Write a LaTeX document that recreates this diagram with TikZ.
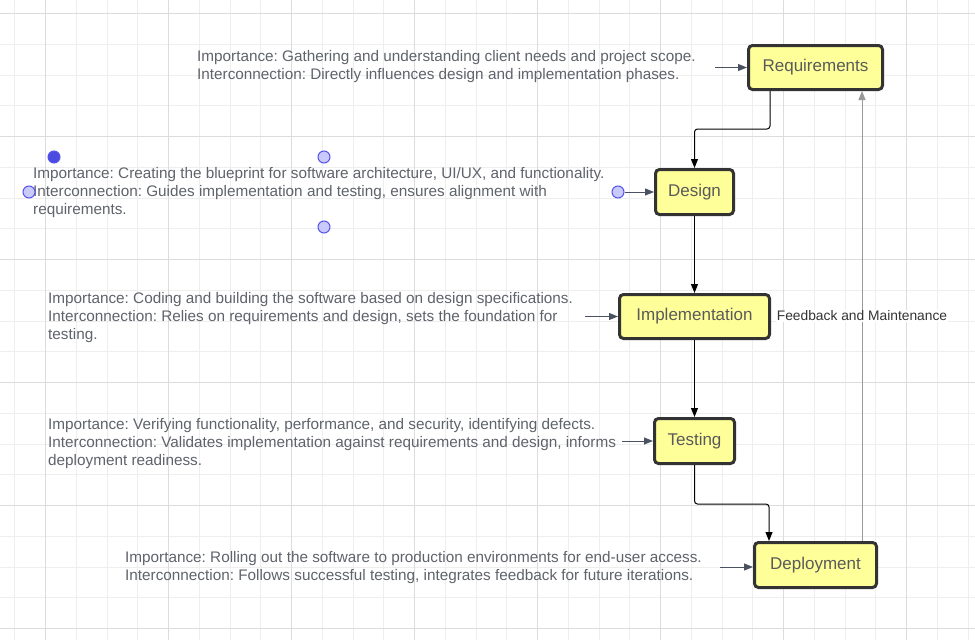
\documentclass[tikz,border=0pt]{standalone}
\usepackage{fontspec}
\setmainfont{Liberation Sans}
\usetikzlibrary{arrows.meta}
\frenchspacing
\definecolor{boxfill}{HTML}{FFFF99}
\definecolor{boxline}{HTML}{333333}
\definecolor{boxtext}{HTML}{5A5A5A}
\definecolor{notegray}{HTML}{5F636A}
\definecolor{inarrowgray}{HTML}{4A5262}
\definecolor{gridminor}{HTML}{EEEEEE}
\definecolor{gridmajor}{HTML}{DCDCDC}
\definecolor{handleline}{HTML}{5555EE}
\definecolor{handlefill}{HTML}{C9C9FB}
\definecolor{handledark}{HTML}{4B4BE0}
\begin{document}
\begin{tikzpicture}
[x=1pt,y=-1pt,
  stepbox/.style={shape=rectangle,draw=boxline,fill=boxfill,line width=3pt,rounded corners=4pt,%
    minimum height=44pt,inner sep=0pt,text=boxtext,font=\fontsize{17}{20}\selectfont},
  notetext/.style={anchor=base west,align=left,inner sep=0pt,text=notegray,font=\fontsize{15.3}{18}\selectfont},
  flowline/.style={-{Triangle[length=9pt,width=7pt]},line width=1pt,rounded corners=3pt},
  feedline/.style={-{Triangle[length=9pt,width=7pt]},line width=1pt,draw=gray!80},
  inarrow/.style={-{Triangle[length=9pt,width=7pt]},line width=1pt,draw=inarrowgray,fill=inarrowgray},
  handle/.style={shape=circle,minimum size=12pt,inner sep=0pt,draw=handleline,fill=handlefill,line width=1pt}]
% background and grid
\useasboundingbox[fill=white] (0,0) rectangle (975,640);
\foreach \i in {0,...,31}
  \draw[gridminor,line width=1pt] ({14.75+\i*30.75},0) -- ({14.75+\i*30.75},640);
\foreach \i in {0,...,20}
  \draw[gridminor,line width=1pt] (0,{13.5+\i*30.75}) -- (975,{13.5+\i*30.75});
\foreach \i in {0,...,7}
  \draw[gridmajor,line width=1pt] ({45.5+\i*123},0) -- ({45.5+\i*123},640);
\foreach \i in {0,...,5}
  \draw[gridmajor,line width=1pt] (0,{13.5+\i*123}) -- (975,{13.5+\i*123});
% phases
\node (req) at (815.5,67.5) [stepbox,minimum width=134pt] {Requirements};
\node (des) at (694.5,192) [stepbox,minimum width=78pt,minimum height=45pt] {Design};
\node (imp) at (694.5,316.5) [stepbox,minimum width=150pt] {Implementation};
\node (tst) at (694.5,441) [stepbox,minimum width=80pt,minimum height=45pt] {Testing};
\node (dep) at (815.5,565) [stepbox,minimum width=122pt,minimum height=45pt] {Deployment};
% notes (anchored at the baseline of their last line)
\node (reqnote) at (197,79.5) [notetext] {Importance: Gathering and understanding client needs and project scope.\\
Interconnection: Directly influences design and implementation phases.};
\node (desnote) at (33,214.5) [notetext] {Importance: Creating the blueprint for software architecture, UI/UX, and functionality.\\
Interconnection: Guides implementation and testing, ensures alignment with\\
requirements.};
\node (impnote) at (48,339.5) [notetext] {Importance: Coding and building the software based on design specifications.\\
Interconnection: Relies on requirements and design, sets the foundation for\\
testing.};
\node (tstnote) at (48,465.5) [notetext] {Importance: Verifying functionality, performance, and security, identifying defects.\\
Interconnection: Validates implementation against requirements and design, informs\\
deployment readiness.};
\node (depnote) at (125,580.5) [notetext] {Importance: Rolling out the software to production environments for end-user access.\\
Interconnection: Follows successful testing, integrates feedback for future iterations.};
% flow
\draw[flowline] ([xshift=-45.5pt]req.south) -- ++(0,38) -| (des.north);
\draw[flowline] (des) -- (imp);
\draw[flowline] (imp) -- (tst);
\draw[flowline] (tst.south) -- ++(0,39) -| ([xshift=-46.5pt]dep.north);
\draw[feedline] ([xshift=46.5pt]dep.north) -- node[fill=white,inner sep=1pt,text=boxline,font=\fontsize{13.8}{16}\selectfont] {Feedback and Maintenance} ([xshift=46.5pt]req.south);
% notes to phases
\coordinate (reqin) at (715,67.5);
\coordinate (impin) at (585,316.5);
\coordinate (tstin) at (622,441);
\coordinate (depin) at (720,567);
\node (deshandle) at (618,192) [handle] {};
\draw[inarrow] (reqin) -- (req.west);
\draw[inarrow] (deshandle) -- (des.west);
\draw[inarrow] (impin) -- (imp.west);
\draw[inarrow] (tstin) -- (tst.west);
\draw[inarrow] (depin) -- (dep.west |- depin);
% selection handles
\node (handlea) at (54,157) [handle,fill=handledark] {};
\node (handleb) at (324,157) [handle] {};
\node (handlec) at (29,192) [handle] {};
\node (handled) at (324,227) [handle] {};
\end{tikzpicture}
\end{document}
